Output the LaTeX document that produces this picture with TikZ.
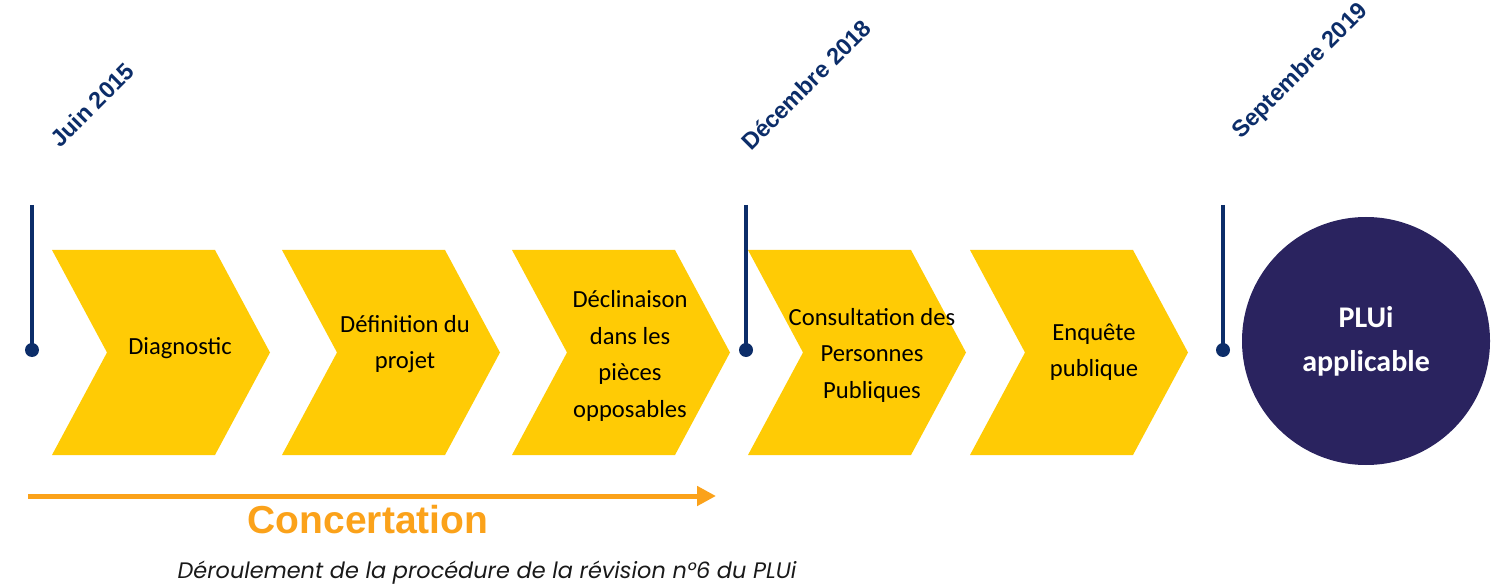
\documentclass[tikz,border=0pt]{standalone}
\usepackage{fontspec}
\setmainfont{Carlito}
\newfontfamily\datefont{Liberation Sans}
\newfontfamily\capfont{Poppins}
\usetikzlibrary{arrows.meta}
\definecolor{chevy}{HTML}{FFCB05}
\definecolor{navy}{HTML}{0C2D69}
\definecolor{circ}{HTML}{2A235F}
\definecolor{orng}{HTML}{FBA21A}
\begin{document}
\begin{tikzpicture}[x=1pt,y=-1pt,
  chev/.style={fill=chevy,draw=none},
  steptext/.style={align=center,text=black,font=\fontsize{24.6}{36.5}\selectfont,inner sep=0pt},
  datelabel/.style={anchor=base west,rotate=45,text=navy,font=\datefont\bfseries\fontsize{23.5}{26}\selectfont,inner sep=0pt},
  markline/.style={draw=navy,line width=4pt},
  markdot/.style={circle,fill=navy,minimum size=14pt,inner sep=0pt},
]
\useasboundingbox (0,0) rectangle (1494,588);
% chevrons
\foreach \L in {52,282,512,748,970}{
  \fill[chev] (\L,250) -- (\L+163,250) -- (\L+218,352.5) -- (\L+163,455) -- (\L,455) -- (\L+55,352.5) -- cycle;
}
% step texts
\node[steptext] (s1) at (180,348) {Diagnostic};
\node[steptext] (s2) at (405,344) {Définition du\\projet};
\node[steptext] (s3) at (630,356) {Déclinaison\\dans les\\pièces\\opposables};
\node[steptext] (s4) at (872,355) {Consultation des\\Personnes\\Publiques};
\node[steptext] (s5) at (1094,352) {Enquête\\publique};
% markers
\foreach \n/\x in {1/32,2/746,3/1223}{
  \coordinate (t\n) at (\x,205);
  \node[markdot] (m\n) at (\x,350) {};
  \draw[markline] (t\n) -- (m\n.center);
}
% dates
\node[datelabel] (d1) at (60,149) {Juin 2015};
\node[datelabel] (d2) at (751,152) {Décembre 2018};
\node[datelabel] (d3) at (1241,140) {Septembre 2019};
% final circle
\node[circle,fill=circ,minimum size=248pt,inner sep=0pt,align=center,text=white,
  font=\bfseries\fontsize{30}{44}\selectfont] (plui) at (1366,341) {PLUi\\applicable};
% concertation arrow
\coordinate (cs) at (28,496);
\coordinate (ce) at (716,496);
\draw[orng,line width=5pt,-{Triangle[length=19pt,width=19pt]}] (cs) -- (ce);
\node[text=orng,font=\datefont\bfseries\fontsize{39}{44}\selectfont,inner sep=0pt] (conc) at (368,520) {Concertation};
% caption
\node[font=\capfont\itshape\fontsize{22.4}{26}\selectfont,text=black!90,inner sep=0pt] (cap) at (487,573) {Déroulement de la procédure de la révision n°6 du PLUi};
\end{tikzpicture}
\end{document}
